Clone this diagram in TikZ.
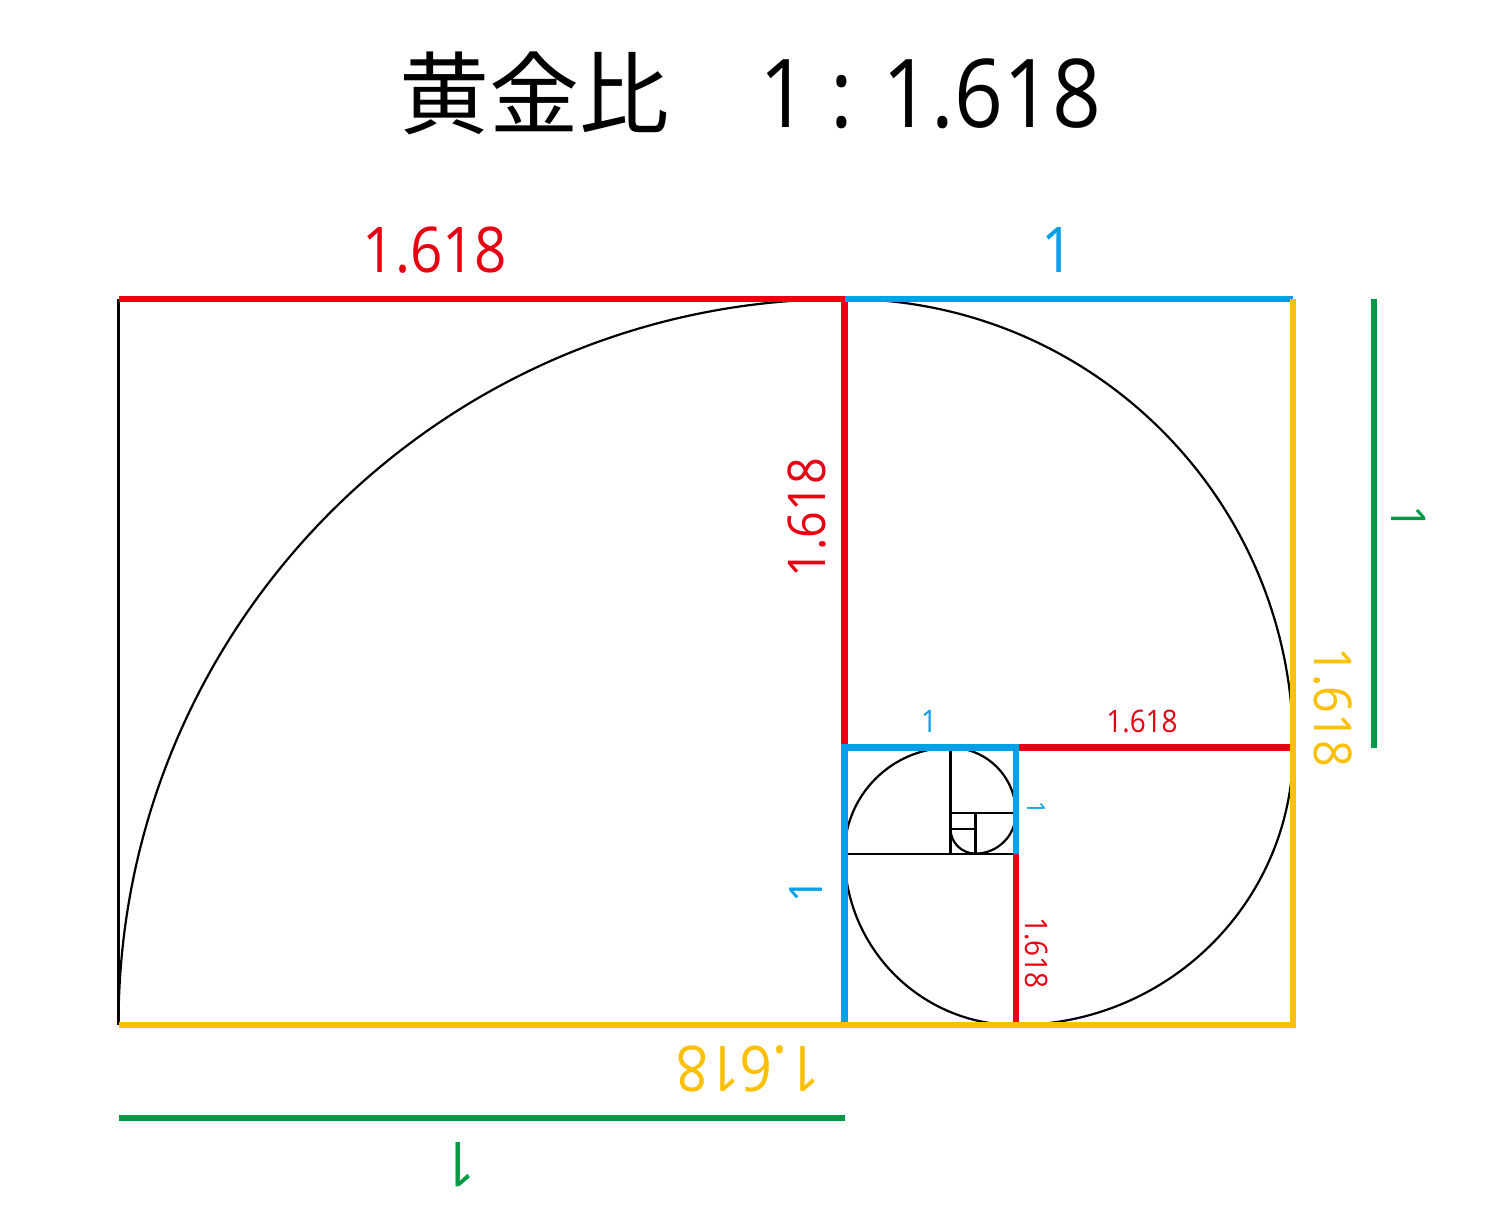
\documentclass[tikz,border=0pt]{standalone}
\usepackage{fontspec}
\setmainfont[FakeStretch=0.9]{Open Sans}
\newfontfamily\cjk{Noto Sans CJK JP}
\definecolor{gred}{HTML}{E60012}
\definecolor{gblue}{HTML}{00A0E9}
\definecolor{gyellow}{HTML}{FBC000}
\definecolor{ggreen}{HTML}{009944}
\begin{document}
\begin{tikzpicture}[x=1pt,y=1pt,
  thinline/.style={black,line width=2.2pt},
  bar/.style={line width=6.5pt},
  lab/.style={inner sep=0pt,font=\fontsize{#1pt}{#1pt}\selectfont}]
\useasboundingbox[fill=white] (0,0) rectangle (1500,1221);
% key coordinates
\coordinate (TL) at (118.5,922);
\coordinate (BL) at (118.5,196);
\coordinate (TM) at (844.5,922);
\coordinate (BM) at (844.5,196);
\coordinate (TR) at (1293.2,922);
\coordinate (BR) at (1293.2,196);
\coordinate (MM) at (844.5,473.3);
\coordinate (MR) at (1293.2,473.3);
\coordinate (M3) at (1015.89,473.3);
\coordinate (B3) at (1015.89,196);
\coordinate (L4) at (844.5,367.39);
\coordinate (R4) at (1015.89,367.39);
\coordinate (T5) at (950.42,473.3);
\coordinate (B5) at (950.42,367.39);
\coordinate (L6) at (950.42,407.84);
\coordinate (R6) at (1015.89,407.84);
\coordinate (T7) at (975.43,407.84);
\coordinate (B7) at (975.43,367.39);
\coordinate (L8) at (950.42,392.39);
\coordinate (R8) at (975.43,392.39);
\coordinate (G1a) at (118.5,103);
\coordinate (G1b) at (844.5,103);
\coordinate (G2a) at (1374,922);
\coordinate (G2b) at (1374,473.3);
% thin black lines
\draw[thinline] (TL) -- (BL);
\draw[thinline] (L4) -- (R4);
\draw[thinline] (T5) -- (B5);
\draw[thinline] (L6) -- (R6);
\draw[thinline] (T7) -- (B7);
\draw[thinline] (L8) -- (R8);
% spiral
\draw[thinline] (BL)
  arc[start angle=180,end angle=90,radius=726]
  arc[start angle=90,end angle=0,radius=448.7]
  arc[start angle=0,end angle=-90,radius=277.31]
  arc[start angle=-90,end angle=-180,radius=171.39]
  arc[start angle=180,end angle=90,radius=105.92]
  arc[start angle=90,end angle=0,radius=65.46]
  arc[start angle=0,end angle=-90,radius=40.46]
  arc[start angle=-90,end angle=-180,radius=25];
% coloured bars
\draw[bar,gred] (TL) -- (TM) -- (MM);
\draw[bar,gred] (M3) -- (MR);
\draw[bar,gred] (R4) -- (B3);
\draw[bar,gblue] (TM) -- (TR);
\draw[bar,gblue] (BM) -- (MM) -- (M3) -- (R4);
\draw[bar,gyellow] (TR) -- (BR) -- (BL);
\draw[bar,ggreen] (G1a) -- (G1b);
\draw[bar,ggreen] (G2a) -- (G2b);
% labels
\node[lab=95,anchor=base] (title) at (750,1093) {{\cjk\fontsize{90pt}{90pt}\selectfont 黄金比　}1 : 1.618};
\node[lab=63,text=gred] (ltop) at (435,971) {1.618};
\node[lab=63,text=gblue] (ltopb) at (1058,971) {1};
\node[lab=52,text=gred,rotate=90] (lvert) at (807,703) {1.618};
\node[lab=48,text=ggreen,rotate=-90] (lgr) at (1409,703) {1};
\node[lab=52,text=gyellow,rotate=-90] (lyr) at (1333,514) {1.618};
\node[lab=63,text=gyellow,rotate=180] (lyb) at (748,152) {1.618};
\node[lab=62,text=ggreen,rotate=180] (lgb) at (460,56) {1};
\node[lab=31,text=gred] (lrs) at (1142,499) {1.618};
\node[lab=31,text=gblue] (lbs) at (929,500) {1};
\node[lab=25,text=gblue,rotate=-90] (lbt) at (1036,413) {1};
\node[lab=46,text=gblue,rotate=90] (lbl) at (806,330) {1};
\node[lab=31,text=gred,rotate=-90] (lrv) at (1036,268) {1.618};
\end{tikzpicture}
\end{document}
